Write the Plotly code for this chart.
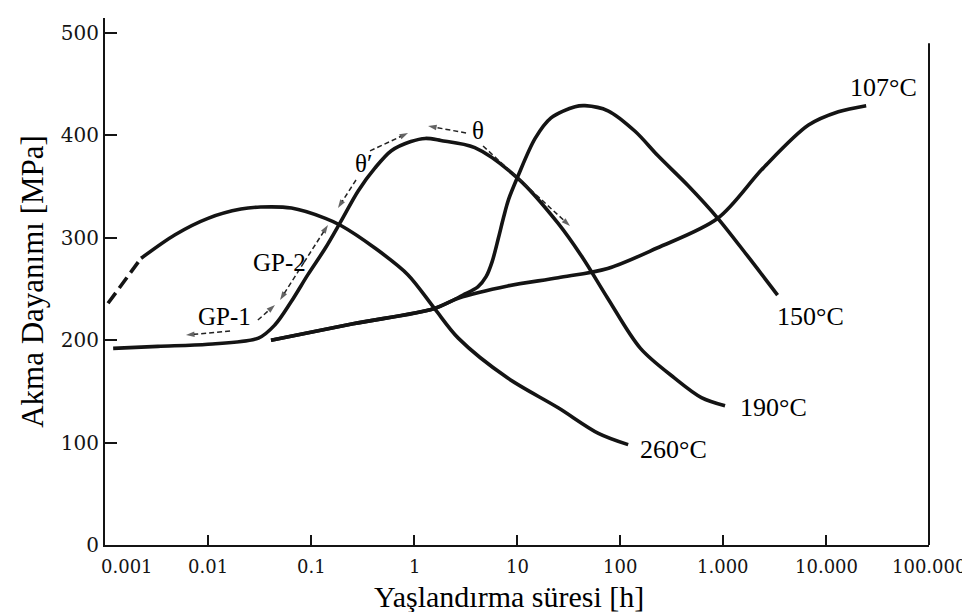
import math
import plotly.graph_objects as go

INK = "#141414"

# ---- data (time in hours, yield strength in MPa) ----
c260_dash_h = [0.00107, 0.00156, 0.00224]
c260_dash_mpa = [236, 259, 280]
c260_h = [0.00224, 0.00479, 0.01, 0.0209, 0.0324, 0.0646, 0.138, 0.195, 0.417,
          0.871, 1.58, 2.69, 8.13, 25.1, 61.7, 120]
c260_mpa = [280, 303, 319, 328, 330, 329, 319, 312, 290, 264, 231, 202, 163, 134, 109, 98]

c190_h = [0.0012, 0.00327, 0.01, 0.0309, 0.0447, 0.0646, 0.0933, 0.138, 0.195, 0.288,
          0.417, 0.603, 0.933, 1.29, 1.82, 3.89, 10.2, 25.1, 43.7, 75.9, 158, 339, 617, 1047]
c190_mpa = [192, 194, 196, 202, 215, 238, 264, 290, 316, 346,
            368, 385, 394, 397, 395, 388, 358, 314, 280, 241, 192, 163, 144, 136]

c150_h = [0.0409, 0.256, 1.58, 2.99, 4.17, 5.01, 5.75, 6.61, 7.41, 8.32, 10.2, 15, 21.4,
          36.6, 45.7, 76.4, 140, 234, 457, 891, 1738, 3388]
c150_mpa = [200, 216, 231, 244, 252, 262, 277, 300, 320, 338, 360, 397, 417,
            428, 429, 424, 404, 380, 351, 319, 282, 244]

c107_h = [0.0409, 0.256, 1.58, 2.69, 8.13, 25.1, 75.9, 229, 891, 2455, 6761, 13183, 24547]
c107_mpa = [200, 216, 231, 241, 253, 261, 270, 290, 319, 368, 410, 423, 429]

# phase arrows (from -> to, arrow head at "to")
arrow_from_h = [0.01637, 0.0305, 0.0855, 0.0855, 0.2735, 0.374, 3.2, 4.68]
arrow_from_mpa = [209, 219.7, 275.9, 275.9, 356.4, 384.8, 402.3, 389.6]
arrow_to_h = [0.00611, 0.0447, 0.0501, 0.146, 0.1828, 0.875, 1.37, 32.7]
arrow_to_mpa = [205, 234.4, 239.3, 312.5, 329, 402.3, 409.2, 311.5]

# labels
label_text = ["GP-1", "GP-2", "θ′", "θ", "260°C", "190°C", "150°C", "107°C"]
label_h = [0.0146, 0.0495, 0.32, 4.18, 150, 1400, 3200, 16400]
label_mpa = [223.6, 275.4, 373, 405, 92.8, 133.8, 223.6, 446.3]
label_anchor = ["center", "center", "center", "center", "left", "left", "left", "left"]
label_size = [25, 25, 25, 25, 26, 26, 26, 26]

x_tickvals = [0.001, 0.01, 0.1, 1, 10, 100, 1000, 10000, 100000]
x_ticktext = ["0.001", "0.01", "0.1", "1", "10", "100", "1.000", "10.000", "100.000"]
y_tickvals = [0, 100, 200, 300, 400, 500]

TICKFONT_X = dict(family="DejaVu Serif", size=18, color=INK)

fig = go.Figure()

curve_line = dict(color=INK, width=3.6, shape="spline", smoothing=0.9)
fig.add_trace(go.Scatter(x=c260_dash_h, y=c260_dash_mpa, mode="lines",
                         line=dict(color=INK, width=3.6, dash="13px,6px")))
for xs, ys in [(c260_h, c260_mpa), (c190_h, c190_mpa), (c107_h, c107_mpa), (c150_h, c150_mpa)]:
    fig.add_trace(go.Scatter(x=xs, y=ys, mode="lines", line=curve_line))

for x0, y0, x1, y1 in zip(arrow_from_h, arrow_from_mpa, arrow_to_h, arrow_to_mpa):
    fig.add_trace(go.Scatter(
        x=[x0, x1], y=[y0, y1], mode="lines+markers",
        line=dict(color="#222222", width=1.5, dash="5px,3px"),
        marker=dict(symbol=["circle", "arrow"], size=[0, 9], angleref="previous",
                    color="#222222", line=dict(width=0)),
    ))

for t, xh, ym, anc, sz in zip(label_text, label_h, label_mpa, label_anchor, label_size):
    fig.add_annotation(x=math.log10(xh), y=ym, xref="x", yref="y", text=t,
                       showarrow=False, xanchor=anc, yanchor="middle",
                       font=dict(family="Liberation Serif", size=sz, color="black"))

# x tick labels (first one sits right of its tick, as in the reference)
for i, (tv, tt) in enumerate(zip(x_tickvals, x_ticktext)):
    fig.add_annotation(x=math.log10(tv), y=0, xref="x", yref="paper", text=tt,
                       showarrow=False, xanchor="center", yanchor="top",
                       xshift=22 if i == 0 else 0, yshift=-9,
                       font=TICKFONT_X)

# right-hand frame line
fig.add_shape(type="line", xref="paper", yref="y", x0=1, x1=1, y0=0, y1=490,
              line=dict(color=INK, width=2))

fig.update_layout(
    width=970, height=612,
    margin=dict(l=97, r=49, t=10, b=75),
    paper_bgcolor="white", plot_bgcolor="white",
    showlegend=False,
    xaxis=dict(
        type="log", range=[-3, 5],
        tickvals=x_tickvals, showticklabels=False,
        ticks="inside", ticklen=10, tickwidth=1.5, tickcolor=INK,
        showline=True, linecolor=INK, linewidth=2,
        showgrid=False, zeroline=False,
    ),
    yaxis=dict(
        range=[0, 514.6],
        tickvals=y_tickvals,
        ticks="inside", ticklen=12, tickwidth=1.5, tickcolor=INK,
        showline=True, linecolor=INK, linewidth=2,
        showgrid=False, zeroline=False,
        tickfont=dict(family="DejaVu Serif", size=20, color=INK),
        title=dict(text="Akma Dayanımı [MPa]", standoff=8,
                   font=dict(family="Liberation Serif", size=31, color="black")),
    ),
)

fig.add_annotation(x=0.49, y=-0.097, xref="paper", yref="paper",
                   text="Yaşlandırma süresi [h]", showarrow=False,
                   xanchor="center", yanchor="middle",
                   font=dict(family="Liberation Serif", size=30, color="black"))

fig.write_html("out.html")
